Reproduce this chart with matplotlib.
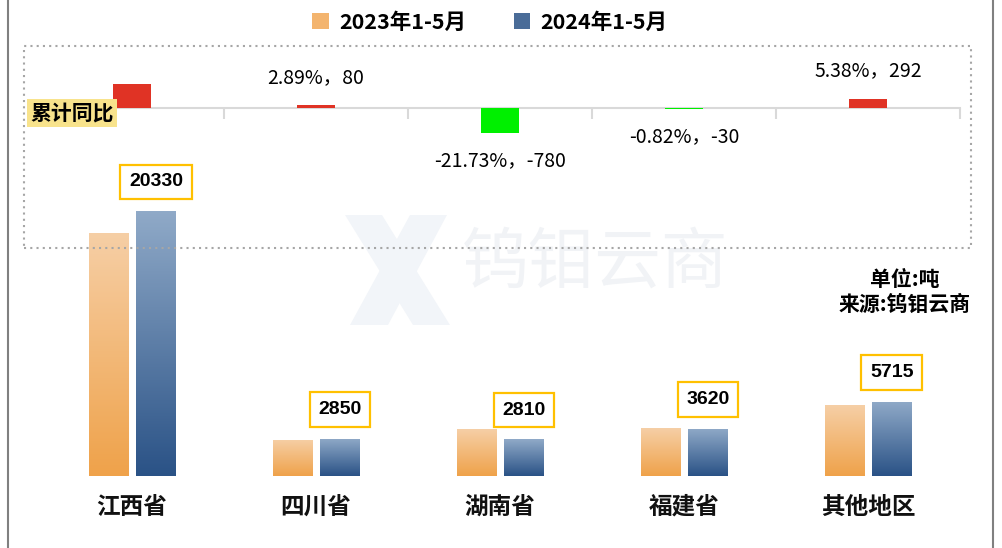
import numpy as np
import matplotlib
matplotlib.use('Agg')
import matplotlib.pyplot as plt
from matplotlib.colors import LinearSegmentedColormap
from matplotlib.patches import Rectangle, Patch, Polygon
from matplotlib.lines import Line2D

plt.rcParams['font.family'] = ['Noto Sans CJK SC', 'DejaVu Sans']

categories = ['江西省', '四川省', '湖南省', '福建省', '其他地区']
y2023 = [18650, 2770, 3590, 3650, 5423]
y2024 = [20330, 2850, 2810, 3620, 5715]
series_names = ['2023年1-5月', '2024年1-5月']

W, H = 1002, 548
fig = plt.figure(figsize=(W / 100, H / 100), dpi=100)


def fx(px):
    return px / W


def fy(py):
    return 1 - py / H


x = np.arange(len(categories))

# ---- main bar chart ----
ax = fig.add_axes([fx(40), fy(476), fx(960) - fx(40), fy(150) - fy(476)])
ax.set_facecolor('none')
bw, off = 0.212, 0.13
b1 = ax.bar(x - off, y2023, bw)
b2 = ax.bar(x + off, y2024, bw)
orange_cmap = LinearSegmentedColormap.from_list('o', ['#EFA24A', '#F6CFA6'])
blue_cmap = LinearSegmentedColormap.from_list('b', ['#2A5286', '#90AAC8'])
grad = np.linspace(0, 1, 256).reshape(-1, 1)
for bars, cmap in ((b1, orange_cmap), (b2, blue_cmap)):
    for r in bars:
        r.set_facecolor('none')
        r.set_edgecolor('none')
        xx, ww, hh = r.get_x(), r.get_width(), r.get_height()
        im = ax.imshow(grad, extent=[xx, xx + ww, 0, hh], origin='lower',
                       aspect='auto', cmap=cmap, zorder=2)
        im.set_clip_path(r)
ax.set_xlim(-0.5, 4.5)
ax.set_ylim(0, 25010)
ax.axis('off')

for xi, v in zip(x, y2024):
    ax.annotate(f'{v}', (xi + off, v), xytext=(0, 21), textcoords='offset points',
                ha='center', va='center', fontsize=14, fontweight='bold',
                family=['Liberation Sans', 'DejaVu Sans'],
                bbox=dict(boxstyle='square,pad=0.45', fc='white', ec='#FFC000', lw=1.6),
                zorder=5, annotation_clip=False)

for xi, c in zip(x, categories):
    ax.text(xi, -0.095, c, transform=ax.get_xaxis_transform(), ha='center', va='center',
            fontsize=17, fontweight='bold', color='#111111')

# ---- YoY change chart ----
ax2 = fig.add_axes([fx(40), fy(245), fx(960) - fx(40), fy(84) - fy(245)])
ax2.set_facecolor('none')
a23 = np.array(y2023)
a24 = np.array(y2024)
diff = a24 - a23
pct = diff / a23 * 100
colors = ['#E03325' if d >= 0 else '#00F000' for d in diff]
ax2.bar(x, diff, 0.207, color=colors, zorder=3)
ax2.set_xlim(-0.5, 4.5)
ax2.set_ylim(-4275, 749)
for k in ('top', 'left', 'right'):
    ax2.spines[k].set_visible(False)
ax2.spines['bottom'].set_position(('data', 0))
ax2.spines['bottom'].set_color('#D9D9D9')
ax2.spines['bottom'].set_linewidth(1.5)
ax2.set_yticks([])
ax2.set_xticks(np.arange(-0.5, 5, 1))
ax2.set_xticklabels([])
ax2.tick_params(axis='x', length=8, color='#D9D9D9', width=1.5, direction='out')
for xi, d, p in zip(x, diff, pct):
    ax2.annotate(f'{p:.2f}%，{d}', (xi, d), xytext=(0, 20 if d >= 0 else -20),
                 textcoords='offset points', ha='center', va='center', fontsize=14,
                 color='#000000', annotation_clip=True)

# ---- decorations ----
fig.legend(handles=[Patch(fc='#F3B46E'), Patch(fc='#4A6C98')], labels=series_names,
           loc='center', bbox_to_anchor=(fx(490), fy(22)), ncol=2, frameon=False,
           handlelength=0.75, handleheight=0.75, handletextpad=0.5, columnspacing=2.2,
           prop=dict(size=15.5, weight='bold'))

fig.text(fx(72), fy(113), '累计同比', fontsize=15, fontweight='bold', ha='center', va='center',
         bbox=dict(fc='#F8E38C', ec='none', boxstyle='square,pad=0.15'), zorder=6)

fig.text(fx(905), fy(280), '单位:吨', fontsize=15, fontweight='bold', ha='center', va='center')
fig.text(fx(905), fy(304), '来源:钨钼云商', fontsize=15, fontweight='bold', ha='center', va='center')

# faint watermark
fig.text(fx(595), fy(264), '钨钼云商', fontsize=48, color='#F1F3F6', ha='center', va='center',
         fontweight='normal', zorder=-1)
for pts in ([(345, 215), (382, 215), (450, 325), (413, 325)],
            [(410, 215), (447, 215), (388, 325), (350, 325)]):
    fig.add_artist(Polygon([(fx(a), fy(b)) for a, b in pts], closed=True,
                           transform=fig.transFigure, fc='#F2F5F9', ec='none', zorder=-1))

fig.add_artist(Rectangle((fx(24), fy(248)), fx(971) - fx(24), fy(46) - fy(248),
                         transform=fig.transFigure, fill=False, ec='#A6A6A6', lw=1.5,
                         ls=(0, (1, 2)), zorder=4))
for xp in (7.5, 992.5):
    fig.add_artist(Line2D([fx(xp)] * 2, [0, 1], color='#808080', lw=1.5,
                          transform=fig.transFigure))

fig.savefig('out.png', dpi=100)
